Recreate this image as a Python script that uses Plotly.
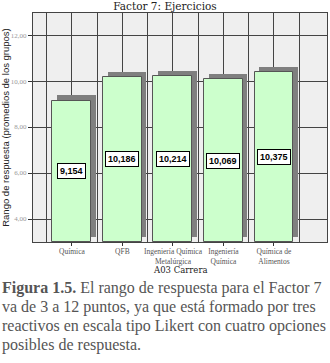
import plotly.graph_objects as go

categories = ["Química", "QFB", "Ingeniería Química<br>Metalúrgica", "Ingeniería<br>Química", "Química de<br>Alimentos"]
values = [9.154, 10.186, 10.214, 10.069, 10.375]
y_ticks = [4, 6, 8, 10, 12]
y_tick_labels = ["4,00", "6,00", "8,00", "10,00", "12,00"]
base_value = 3
caption_lines = [
    "<b>Figura 1.5.</b> El rango de respuesta para el Factor 7",
    "va de 3 a 12 puntos, ya que está formado por tres",
    "reactivos en escala tipo Likert con cuatro opciones",
    "posibles de respuesta.",
]

idx = list(range(len(categories)))
heights = [v - base_value for v in values]

fig = go.Figure()
# shadow bars
fig.add_trace(go.Bar(
    x=[i + 0.09 for i in idx], y=heights, base=base_value + 0.22,
    width=0.76, marker=dict(color="#7f7f7f", line=dict(width=0)),
    hoverinfo="skip", showlegend=False,
))
# front bars
fig.add_trace(go.Bar(
    x=idx, y=heights, base=base_value,
    width=0.77, marker=dict(color="#ccffcc", line=dict(color="#555555", width=1)),
    showlegend=False,
))

for i, v in zip(idx, values):
    fig.add_annotation(
        x=i, y=(base_value + v) / 2, xref="x", yref="y",
        text="<b>" + f"{v:.3f}".replace(".", ",") + "</b>",
        showarrow=False, bgcolor="white", bordercolor="black", borderwidth=1, borderpad=2,
        font=dict(family="Liberation Sans, Arial", size=9, color="black"),
    )

# x axis title
fig.add_annotation(
    x=0.5, y=0, xref="paper", yref="paper", xanchor="center", yanchor="top",
    yshift=-21, showarrow=False, text="A03 Carrera",
    font=dict(family="DejaVu Serif, serif", size=8.5, color="#222222"),
)

# caption, one line each
for k, line in enumerate(caption_lines):
    fig.add_annotation(
        x=0, y=0, xref="paper", yref="paper", xanchor="left", yanchor="top",
        xshift=-33, yshift=-35 - 19 * k, align="left", showarrow=False,
        text=line,
        font=dict(family="Liberation Serif, serif", size=16, color="#555555"),
    )

fig.update_layout(
    width=330, height=363,
    margin=dict(l=33, r=3, t=13, b=121, autoexpand=False),
    paper_bgcolor="white", plot_bgcolor="#efefef",
    bargap=0, barmode="overlay",
    title=dict(text="Factor 7: Ejercicios", x=0.5, xanchor="center", y=0.983, yanchor="middle",
               pad=dict(t=0, b=0), font=dict(family="DejaVu Serif, serif", size=10.5, color="#222222")),
    xaxis=dict(
        automargin=False,
        range=[-0.77, 5.05], tickmode="array", tickvals=idx, ticktext=categories,
        showgrid=True, gridcolor="#444444", gridwidth=1,
        minor=dict(tickmode="linear", tick0=-0.5, dtick=1, showgrid=True, gridcolor="#444444", gridwidth=1, ticks=""),
        ticks="outside", ticklen=3, tickcolor="#333333", ticklabelstandoff=-1,
        tickfont=dict(family="Liberation Serif, serif", size=7.5, color="#555555"),
        showline=True, linecolor="#444444", mirror=True, zeroline=False,
    ),
    yaxis=dict(
        automargin=False,
        range=[3, 12.96], tickmode="array", tickvals=y_ticks, ticktext=y_tick_labels,
        showgrid=True, gridcolor="#444444", gridwidth=1,
        ticks="outside", ticklen=4, tickcolor="#333333",
        tickfont=dict(family="Liberation Serif, serif", size=7, color="#999999"),
        showline=True, linecolor="#444444", mirror=True, zeroline=False,
        title=dict(text="Rango de respuesta (promedios de los grupos)", standoff=6,
                   font=dict(family="Liberation Sans, Arial", size=9.5, color="#222222")),
    ),
)

fig.write_html("out.html", config={"displayModeBar": False},
               post_script="document.body.style.margin='0';")
